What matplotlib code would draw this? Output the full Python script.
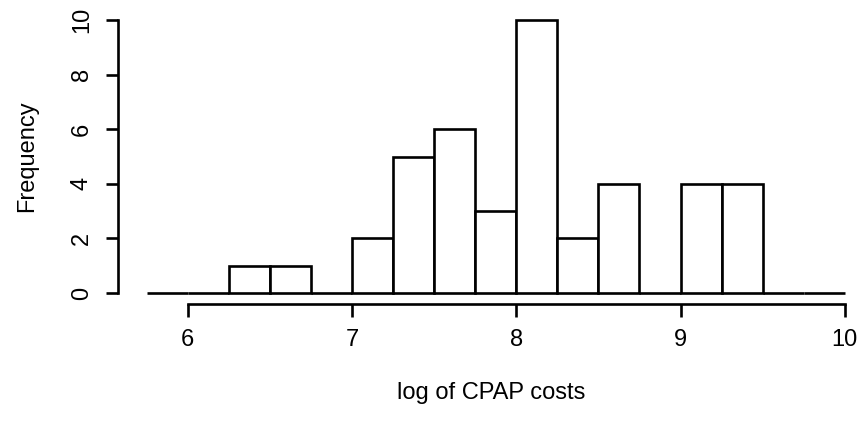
import numpy as np
import matplotlib.pyplot as plt

plt.rcParams['font.family'] = ['Liberation Sans', 'DejaVu Sans']

# histogram of log CPAP costs, bin width 0.25
bin_edges = [5.75, 6.0, 6.25, 6.5, 6.75, 7.0, 7.25, 7.5, 7.75, 8.0,
             8.25, 8.5, 8.75, 9.0, 9.25, 9.5, 9.75, 10.0]
counts = [0, 0, 1, 1, 0, 2, 5, 6, 3, 10, 2, 4, 0, 4, 4, 0, 0]
x_ticks = [6, 7, 8, 9, 10]
y_ticks = [0, 2, 4, 6, 8, 10]

fig = plt.figure(figsize=(8.64, 4.21), dpi=100)
ax = fig.add_axes([118 / 864, 117 / 421, 746 / 864, 295 / 421])

lefts = np.array(bin_edges[:-1])
widths = np.diff(bin_edges)
ax.bar(lefts, counts, width=widths, align='edge', facecolor='white',
       edgecolor='black', linewidth=1.9)

ax.set_xlim(5.575, 10.117)
ax.set_ylim(-0.4, 10.4)

for s in ['top', 'right']:
    ax.spines[s].set_visible(False)
ax.spines['left'].set_bounds(0, 10)
ax.spines['bottom'].set_bounds(6, 10)
for s in ['left', 'bottom']:
    ax.spines[s].set_linewidth(1.9)

ax.set_xticks(x_ticks)
ax.set_yticks(y_ticks)
ax.set_yticklabels([str(v) for v in y_ticks], rotation=90, va='center')
ax.tick_params(axis='both', length=9, width=1.9, labelsize=17, pad=9)

ax.set_xlabel('log of CPAP costs', fontsize=17, labelpad=22)
ax.set_ylabel('Frequency', fontsize=17, labelpad=24)

fig.savefig('out.png', dpi=100)
